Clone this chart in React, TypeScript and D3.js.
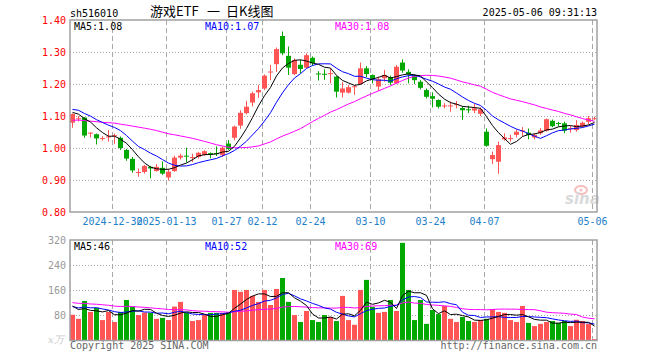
import React from "react";
import * as d3 from "d3";

const dates = [
  "2024-12-19","2024-12-20","2024-12-23","2024-12-24","2024-12-25","2024-12-26","2024-12-27","2024-12-30","2024-12-31",
  "2025-01-02","2025-01-03","2025-01-06","2025-01-07","2025-01-08","2025-01-09","2025-01-10","2025-01-13",
  "2025-01-14","2025-01-15","2025-01-16","2025-01-17","2025-01-20","2025-01-21","2025-01-22","2025-01-23","2025-01-24","2025-01-27",
  "2025-02-05","2025-02-06","2025-02-07","2025-02-10","2025-02-11","2025-02-12",
  "2025-02-13","2025-02-14","2025-02-17","2025-02-18","2025-02-19","2025-02-20","2025-02-21","2025-02-24",
  "2025-02-25","2025-02-26","2025-02-27","2025-02-28",
  "2025-03-03","2025-03-04","2025-03-05","2025-03-06","2025-03-07","2025-03-10",
  "2025-03-11","2025-03-12","2025-03-13","2025-03-14","2025-03-17","2025-03-18","2025-03-19","2025-03-20","2025-03-21","2025-03-24",
  "2025-03-25","2025-03-26","2025-03-27","2025-03-28","2025-03-31",
  "2025-04-01","2025-04-02","2025-04-03","2025-04-07",
  "2025-04-08","2025-04-09","2025-04-10","2025-04-11","2025-04-14","2025-04-15","2025-04-16","2025-04-17","2025-04-18",
  "2025-04-21","2025-04-22","2025-04-23","2025-04-24","2025-04-25","2025-04-28","2025-04-29","2025-04-30",
  "2025-05-06",
];

const opens = [
  1.079,1.090,1.095,1.046,1.043,1.029,1.034,1.038,1.032,0.994,
  0.966,0.923,0.925,0.941,0.928,0.938,0.908,0.928,0.970,0.976,
  0.970,0.972,0.979,0.984,0.984,0.978,1.014,1.032,1.070,1.109,
  1.142,1.174,1.186,1.237,1.262,1.350,1.288,1.231,1.260,1.251,
  1.282,1.233,1.232,1.232,1.223,1.173,1.173,1.191,1.200,1.249,
  1.228,1.192,1.218,1.221,1.202,1.267,1.238,1.228,1.207,1.181,
  1.162,1.150,1.131,1.130,1.135,1.125,1.121,1.117,1.107,1.051,
  0.965,0.957,1.027,1.029,1.041,1.053,1.048,1.033,1.046,1.054,
  1.085,1.078,1.077,1.060,1.056,1.067,1.082,1.091,
];
const highs = [
  1.108,1.100,1.097,1.049,1.045,1.037,1.056,1.045,1.036,0.997,
  0.972,0.936,0.947,0.944,0.950,0.958,0.935,0.976,0.982,1.001,
  0.982,0.988,0.993,0.986,1.005,1.004,1.025,1.070,1.118,1.147,
  1.176,1.197,1.230,1.260,1.314,1.364,1.317,1.280,1.275,1.296,
  1.286,1.240,1.246,1.249,1.225,1.207,1.197,1.197,1.267,1.256,
  1.230,1.223,1.244,1.226,1.259,1.277,1.246,1.230,1.212,1.186,
  1.174,1.152,1.140,1.145,1.147,1.130,1.132,1.139,1.127,1.061,
  0.989,1.020,1.046,1.041,1.058,1.065,1.061,1.046,1.062,1.092,
  1.089,1.082,1.082,1.069,1.087,1.083,1.100,1.098,
];
const lows = [
  1.063,1.083,1.032,1.033,1.011,1.023,1.020,1.013,0.994,0.960,
  0.923,0.910,0.920,0.905,0.926,0.916,0.898,0.925,0.964,0.955,
  0.956,0.967,0.975,0.968,0.975,0.972,0.994,1.024,1.060,1.105,
  1.130,1.157,1.181,1.212,1.238,1.290,1.228,1.228,1.233,1.249,
  1.256,1.211,1.213,1.202,1.158,1.158,1.170,1.166,1.197,1.221,
  1.202,1.179,1.207,1.197,1.200,1.235,1.202,1.200,1.183,1.155,
  1.127,1.124,1.124,1.113,1.124,1.088,1.109,1.109,1.100,1.004,
  0.950,0.919,1.023,1.020,1.033,1.037,1.027,1.027,1.041,1.051,
  1.065,1.067,1.046,1.048,1.051,1.064,1.075,1.088,
];
const closes = [
  1.106,1.093,1.039,1.048,1.030,1.031,1.036,1.040,1.000,0.967,
  0.930,0.925,0.944,0.936,0.941,0.920,0.926,0.970,0.976,0.973,
  0.972,0.985,0.990,0.979,0.982,1.001,0.997,1.067,1.110,1.129,
  1.171,1.181,1.226,1.239,1.309,1.296,1.251,1.275,1.247,1.290,
  1.265,1.230,1.230,1.234,1.176,1.186,1.190,1.193,1.249,1.231,
  1.215,1.215,1.228,1.204,1.254,1.242,1.230,1.212,1.188,1.160,
  1.154,1.129,1.133,1.133,1.137,1.118,1.120,1.124,1.121,1.007,
  0.978,1.009,1.033,1.031,1.051,1.055,1.041,1.041,1.055,1.090,
  1.068,1.077,1.054,1.062,1.072,1.079,1.093,1.093,
];
const volumes = [
  82,69,126,91,104,65,91,59,91,129,
  107,81,89,88,69,72,65,108,123,88,
  62,65,81,88,88,88,88,161,155,161,
  142,123,161,113,164,199,123,81,59,94,
  65,59,81,75,62,142,65,50,161,193,
  107,88,91,129,94,311,161,65,129,53,
  97,84,110,69,59,75,62,59,65,69,
  100,91,88,65,59,110,56,46,53,59,
  62,56,62,46,66,62,53,4,
];

// estimated sessions before the first visible candle (only used for the moving averages)
const priorCloses = [
  1.07,1.09,1.10,1.08,1.09,1.07,1.08,1.10,
  1.05,1.03,1.02,1.04,
  1.04,1.06,1.07,1.08,1.06,1.09,1.08,1.09,
  1.12,1.14,1.13,1.14,1.12,
  1.12,1.11,1.10,1.12,
];
const priorVolumes = [
  140,125,150,130,118,135,145,120,110,128,132,118,140,125,115,122,130,118,112,127,
  110,95,120,100,105,
  125,110,120,112,
];

const tickDates = ["2024-12-30","2025-01-13","2025-01-27","2025-02-12","2025-02-24","2025-03-10","2025-03-24","2025-04-07","2025-05-06"];
const tickLabels = ["2024-12-30","2025-01-13","01-27","02-12","02-24","03-10","03-24","04-07","05-06"];
const priceTicks = [1.4, 1.3, 1.2, 1.1, 1.0, 0.9, 0.8];
const volTicks = [320, 240, 160, 80];
const titleParts = ["游戏ETF", "一", "日K线图"];

const RED = "#ff5555";
const GREEN = "#00a800";
const GRID = "#a8a8a8";
const MONO = "'DejaVu Sans Mono', 'Liberation Mono', monospace";
const CJK = "'Noto Sans CJK SC', sans-serif";

function movingAvg(prior: number[], vals: number[], n: number): number[] {
  const all = prior.concat(vals);
  const off = prior.length;
  return vals.map((_, i) => d3.mean(all.slice(off + i - n + 1, off + i + 1)) as number);
}

export default function App() {
  const L = 70, R = 597, PT = 20, PB = 212, VT = 240, VB = 340.5;
  const x = d3.scaleBand<string>().domain(dates).range([L, L + dates.length * 6]).padding(0);
  const yP = d3.scaleLinear().domain([0.8, 1.4]).range([PB, PT]);
  const yV = d3.scaleLinear().domain([0, 320]).range([VB, VT]);
  const cx = (d: string) => (x(d) as number) + 2.5;

  const ma5 = movingAvg(priorCloses, closes, 5);
  const ma10 = movingAvg(priorCloses, closes, 10);
  const ma30 = movingAvg(priorCloses, closes, 30);
  const vma5 = movingAvg(priorVolumes, volumes, 5);
  const vma10 = movingAvg(priorVolumes, volumes, 10);
  const vma30 = movingAvg(priorVolumes, volumes, 30);

  const pLine = d3.line<number>().x((_, i) => cx(dates[i])).y((v) => yP(v));
  const vLine = d3.line<number>().x((_, i) => cx(dates[i])).y((v) => yV(v));
  const last = dates.length - 1;

  return (
    <svg width={660} height={360} style={{ position: "absolute", left: 0, top: 0, background: "#fff" }}>
      {/* header */}
      <text x={70} y={16.5} fontFamily={MONO} fontSize={10} fill="#000">sh516010</text>
      <text x={150} y={16} fontFamily={CJK} fontSize={13} fill="#000">{titleParts[0]}</text>
      <text x={207} y={16} fontFamily={CJK} fontSize={13} fill="#000">{titleParts[1]}</text>
      <text x={226} y={16} fontFamily={CJK} fontSize={13} fill="#000">{titleParts[2]}</text>
      <text x={597} y={16} fontFamily={MONO} fontSize={10} fill="#000" textAnchor="end">2025-05-06 09:31:13</text>

      {/* horizontal grid */}
      {priceTicks.filter((t) => t < 1.39 && t > 0.81).map((t) => (
        <line key={"pg" + t} x1={L} x2={R} y1={Math.round(yP(t)) + 0.5} y2={Math.round(yP(t)) + 0.5} stroke={GRID} strokeDasharray="1,2" />
      ))}
      {volTicks.filter((t) => t < 320).map((t) => (
        <line key={"vg" + t} x1={L} x2={R} y1={Math.round(yV(t)) + 0.5} y2={Math.round(yV(t)) + 0.5} stroke={GRID} strokeDasharray="1,2" />
      ))}
      {/* vertical grid */}
      {tickDates.map((d) => (
        <g key={"vx" + d}>
          <line x1={(x(d) as number) + 0.5} x2={(x(d) as number) + 0.5} y1={PT} y2={PB} stroke={GRID} strokeDasharray="5,3" />
          <line x1={(x(d) as number) + 0.5} x2={(x(d) as number) + 0.5} y1={VT} y2={VB} stroke={GRID} strokeDasharray="5,3" />
        </g>
      ))}

      {/* y labels */}
      {priceTicks.map((t) => (
        <text key={"pl" + t} x={66} y={yP(t) + 4} fontFamily={MONO} fontSize={10} fill="#ff0000" textAnchor="end">{t.toFixed(2)}</text>
      ))}
      {volTicks.map((t) => (
        <text key={"vl" + t} x={66} y={yV(t) + 4} fontFamily={MONO} fontSize={10} fill="#999" textAnchor="end">{t}</text>
      ))}

      {/* x labels */}
      {tickDates.map((d, i) => (
        <text key={"xl" + d} x={(x(d) as number) + 0.5} y={225} fontFamily={MONO} fontSize={10} fill="#1e80c8" textAnchor="middle">{tickLabels[i]}</text>
      ))}

      {/* sina watermark */}
      <g opacity={0.85}>
        <ellipse cx={581} cy={190} rx={6} ry={4} fill="none" stroke="#f3b4b4" strokeWidth={2} />
        <circle cx={581} cy={190} r={1.6} fill="#f3b4b4" />
        <text x={565} y={204} fontFamily="'DejaVu Sans', sans-serif" fontStyle="italic" fontWeight="bold" fontSize={15} fill="#d4d4d4">sina</text>
      </g>

      {/* candles */}
      {dates.map((d, i) => {
        const up = closes[i] >= opens[i];
        const col = up ? RED : GREEN;
        const top = yP(Math.max(opens[i], closes[i]));
        const bot = yP(Math.min(opens[i], closes[i]));
        return (
          <g key={"c" + d}>
            <line x1={cx(d)} x2={cx(d)} y1={yP(highs[i])} y2={yP(lows[i])} stroke={col} strokeWidth={1} />
            <rect x={x(d) as number} y={top} width={5} height={Math.max(1, bot - top)} fill={col} />
          </g>
        );
      })}

      {/* price MAs */}
      <path d={pLine(ma30) as string} fill="none" stroke="#ff00ff" strokeWidth={1} />
      <path d={pLine(ma10) as string} fill="none" stroke="#0000ff" strokeWidth={1} />
      <path d={pLine(ma5) as string} fill="none" stroke="#000" strokeWidth={1} />

      {/* volume bars */}
      {dates.map((d, i) => {
        const up = closes[i] >= opens[i];
        return (
          <rect key={"v" + d} x={x(d) as number} y={yV(volumes[i])} width={5} height={VB - yV(volumes[i])} fill={up ? RED : GREEN} />
        );
      })}
      <path d={vLine(vma30) as string} fill="none" stroke="#ff00ff" strokeWidth={1} />
      <path d={vLine(vma10) as string} fill="none" stroke="#0000ff" strokeWidth={1} />
      <path d={vLine(vma5) as string} fill="none" stroke="#000" strokeWidth={1} />

      {/* frames */}
      <rect x={L} y={PT} width={R - L} height={PB - PT} fill="none" stroke="#a0a0a0" strokeWidth={1.5} />
      <rect x={L} y={VT} width={R - L} height={VB - VT} fill="none" stroke="#a0a0a0" strokeWidth={1.5} />

      {/* MA legends */}
      <text x={74} y={30} fontFamily={MONO} fontSize={10} fill="#000">MA5:{ma5[last].toFixed(2)}</text>
      <text x={205} y={30} fontFamily={MONO} fontSize={10} fill="#0000ff">MA10:{ma10[last].toFixed(2)}</text>
      <text x={335} y={30} fontFamily={MONO} fontSize={10} fill="#ff00ff">MA30:{ma30[last].toFixed(2)}</text>
      <text x={74} y={250} fontFamily={MONO} fontSize={10} fill="#000">MA5:{Math.round(vma5[last])}</text>
      <text x={205} y={250} fontFamily={MONO} fontSize={10} fill="#0000ff">MA10:{Math.round(vma10[last])}</text>
      <text x={335} y={250} fontFamily={MONO} fontSize={10} fill="#ff00ff">MA30:{Math.round(vma30[last])}</text>

      {/* footer */}
      <text x={48} y={343} fontFamily="'DejaVu Serif', serif" fontStyle="italic" fontSize={10} fill="#c8c8c8">x万</text>
      <text x={70} y={349} fontFamily={MONO} fontSize={10} fill="#666">Copyright 2025 SINA.COM</text>
      <text x={597} y={349} fontFamily={MONO} fontSize={10} fill="#666" textAnchor="end">http://finance.sina.com.cn</text>
    </svg>
  );
}
